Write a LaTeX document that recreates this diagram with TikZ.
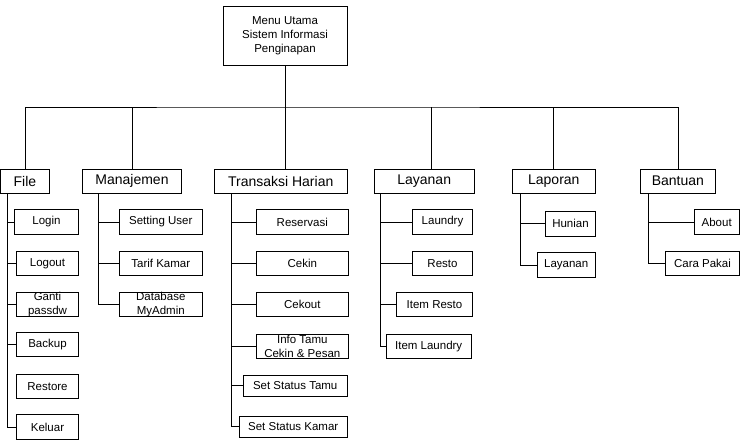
\documentclass[tikz,border=0pt]{standalone}
\usepackage{fontspec}
\setmainfont{Liberation Sans}
\usetikzlibrary{positioning, calc}

\begin{document}
\begin{tikzpicture}[
  x=1pt, y=-1pt,
  line width=0.8pt,
  every node/.style={draw, inner sep=0pt, align=center},
  menubox/.style={minimum width=124pt, minimum height=59pt,
    font=\fontsize{11.5}{14}\selectfont},
  topbox/.style={minimum height=24pt, font=\fontsize{14}{16}\selectfont},
  subbox/.style={minimum height=24.5pt, font=\fontsize{11.5}{14}\selectfont}
]
  \useasboundingbox (0,0) rectangle (744,440);

  \node[menubox] (menu) at (285,35.5) {Menu Utama\\Sistem Informasi\\Penginapan};

  % menu bar
  \node[topbox, minimum width=48.8pt] (file) at (24.9,181) {File};
  \node[topbox, minimum width=99.4pt] (manajemen) at (132,181) {Manajemen};
  \node[topbox, minimum width=132.7pt] (trans) at (280.7,181) {Transaksi Harian};
  \node[topbox, minimum width=99.7pt] (layanan) at (424.2,181) {Layanan};
  \node[topbox, minimum width=83pt] (laporan) at (553.8,181) {Laporan};
  \node[topbox, minimum width=74.3pt] (bantuan) at (677.9,181) {Bantuan};

  % File
  \node[subbox, minimum width=64.4pt] (login) at (46.5,222) {Login};
  \node[subbox, minimum width=62.4pt] (logout) at (47.5,263.5) {Logout};
  \node[subbox, minimum width=62.4pt] (ganti) at (47.5,304.5) {Ganti\\passdw};
  \node[subbox, minimum width=62.4pt] (backup) at (47.5,344.5) {Backup};
  \node[subbox, minimum width=62.4pt] (restore) at (47.5,386.5) {Restore};
  \node[subbox, minimum width=62.4pt] (keluar) at (47.5,427) {Keluar};

  % Manajemen
  \node[subbox, minimum width=83pt] (setuser) at (160.8,222) {Setting User};
  \node[subbox, minimum width=83pt] (tarif) at (160.8,263.5) {Tarif Kamar};
  \node[subbox, minimum width=83pt] (dbadmin) at (160.8,304.5) {Database\\MyAdmin};

  % Transaksi Harian
  \node[subbox, minimum width=92.7pt] (reservasi) at (302.3,222) {Reservasi};
  \node[subbox, minimum width=92.7pt] (cekin) at (302.3,263.5) {Cekin};
  \node[subbox, minimum width=92.7pt] (cekout) at (302.3,304.5) {Cekout};
  \node[subbox, minimum width=92.7pt] (infotamu) at (302.3,346.5) {Info Tamu\\Cekin \& Pesan};
  \node[subbox, minimum width=103.7pt, minimum height=21pt] (sttamu) at (295.2,385.5) {Set Status Tamu};
  \node[subbox, minimum width=107.7pt, minimum height=21pt] (stkamar) at (293.2,426.5) {Set Status Kamar};

  % Layanan
  \node[subbox, minimum width=59.6pt] (laundry) at (442.5,222) {Laundry};
  \node[subbox, minimum width=59.6pt] (resto) at (442.5,263.5) {Resto};
  \node[subbox, minimum width=75.6pt] (itemresto) at (434.5,304.5) {Item Resto};
  \node[subbox, minimum width=84.7pt] (itemlaundry) at (428.7,346.5) {Item Laundry};

  % Laporan
  \node[subbox, minimum width=49.6pt] (hunian) at (570.5,223.8) {Hunian};
  \node[subbox, minimum width=58.3pt] (lapLayanan) at (566.2,265) {Layanan};

  % Bantuan
  \node[subbox, minimum width=45.3pt] (about) at (716.7,222) {About};
  \node[subbox, minimum width=73.6pt] (carapakai) at (702.5,263.5) {Cara Pakai};

  % menu lines
  \coordinate (bus) at (285,107);
  \coordinate (layD) at (431.7,107);
  \draw (menu.south) -- (menu.south |- trans.north);
  \draw (file.north) |- (bus) -| (bantuan.north);
  \draw (manajemen.north) -- (manajemen.north |- bus);
  \draw (layD) -- (layD |- layanan.north);
  \draw (laporan.north) -- (laporan.north |- bus);

  % sub menu lines
  \coordinate (fileT) at ([xshift=6.8pt]file.south west);
  \draw (fileT) |- (keluar.west);
  \foreach \n in {login,logout,ganti,backup}
    \draw (\n.west) -- (\n.west -| fileT);

  \coordinate (manT) at ([xshift=16.7pt]manajemen.south west);
  \draw (manT) |- (dbadmin.west);
  \foreach \n in {setuser,tarif}
    \draw (\n.west) -- (\n.west -| manT);

  \coordinate (transT) at ([xshift=17.4pt]trans.south west);
  \draw (transT) |- (stkamar.west);
  \foreach \n in {reservasi,cekin,cekout,infotamu,sttamu}
    \draw (\n.west) -- (\n.west -| transT);

  \coordinate (layT) at ([xshift=6pt]layanan.south west);
  \draw (layT) |- (itemlaundry.west);
  \foreach \n in {laundry,resto,itemresto}
    \draw (\n.west) -- (\n.west -| layT);

  \coordinate (lapT) at ([xshift=8.4pt]laporan.south west);
  \draw (lapT) |- (lapLayanan.west);
  \draw (hunian.west) -- (hunian.west -| lapT);

  \coordinate (banT) at ([xshift=8.3pt]bantuan.south west);
  \draw (banT) |- (carapakai.west);
  \draw (about.west) -- (about.west -| banT);
\end{tikzpicture}
\end{document}
